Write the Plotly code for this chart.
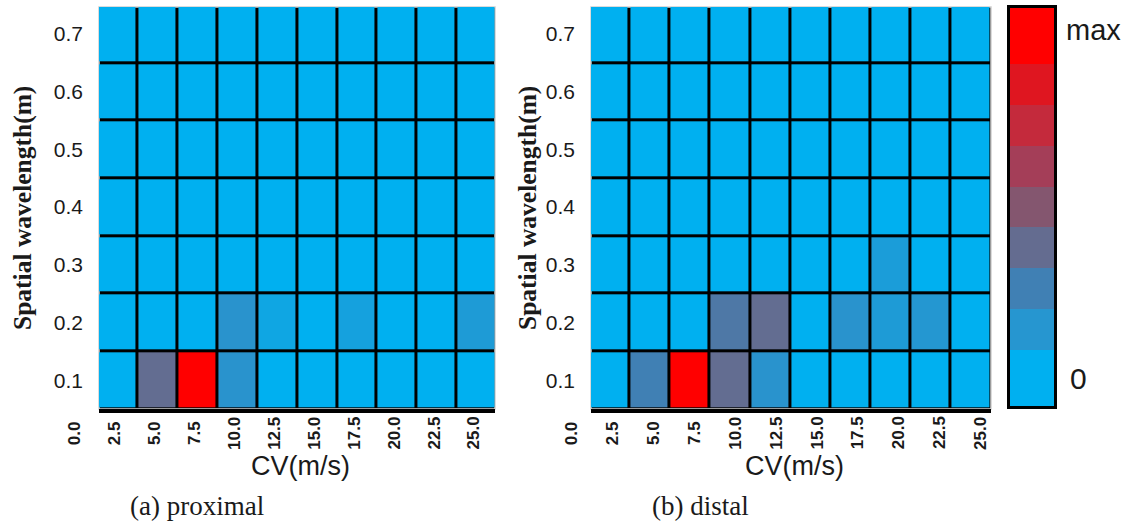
import plotly.graph_objects as go

# ---- data -------------------------------------------------------------
cv_labels = ["0.0", "2.5", "5.0", "7.5", "10.0", "12.5", "15.0",
             "17.5", "20.0", "22.5", "25.0"]
wavelength_labels = ["0.1", "0.2", "0.3", "0.4", "0.5", "0.6", "0.7"]

# relative power (fraction of max); rows = wavelength 0.1 .. 0.7, cols = CV bins
proximal = [
    [0.00, 0.37, 1.00, 0.14, 0.00, 0.00, 0.00, 0.00, 0.00, 0.00],
    [0.00, 0.00, 0.00, 0.14, 0.05, 0.00, 0.07, 0.00, 0.00, 0.10],
    [0.00, 0.00, 0.00, 0.00, 0.00, 0.00, 0.00, 0.00, 0.00, 0.00],
    [0.00, 0.00, 0.00, 0.00, 0.00, 0.00, 0.00, 0.00, 0.00, 0.00],
    [0.00, 0.00, 0.00, 0.00, 0.00, 0.00, 0.00, 0.00, 0.00, 0.00],
    [0.00, 0.00, 0.00, 0.00, 0.00, 0.00, 0.00, 0.00, 0.00, 0.00],
    [0.00, 0.00, 0.00, 0.00, 0.00, 0.00, 0.00, 0.00, 0.00, 0.00],
]
distal = [
    [0.00, 0.25, 1.00, 0.37, 0.14, 0.00, 0.00, 0.00, 0.00, 0.00],
    [0.00, 0.00, 0.00, 0.30, 0.37, 0.00, 0.14, 0.10, 0.12, 0.00],
    [0.00, 0.00, 0.00, 0.00, 0.00, 0.00, 0.00, 0.09, 0.00, 0.00],
    [0.00, 0.00, 0.00, 0.00, 0.00, 0.00, 0.00, 0.00, 0.00, 0.00],
    [0.00, 0.00, 0.00, 0.00, 0.00, 0.00, 0.00, 0.00, 0.00, 0.00],
    [0.00, 0.00, 0.00, 0.00, 0.00, 0.00, 0.00, 0.00, 0.00, 0.00],
    [0.00, 0.00, 0.00, 0.00, 0.00, 0.00, 0.00, 0.00, 0.00, 0.00],
]

# colour steps of the legend, from 0 up to max
scale_colors = ["#00B0F0", "#2696D0", "#4080B4", "#646C90", "#84566F",
                "#A43E58", "#C42A3C", "#DF1620", "#FF0000"]
scale_labels = ["0", "max"]

panel_titles = ["(a) proximal", "(b) distal"]
x_title = "CV(m/s)"
y_title = "Spatial wavelength(m)"

# ---- styling ------------------------------------------------------------
W, H = 1137, 532
SANS = "Liberation Sans, Arial, sans-serif"
SERIF = "Liberation Serif, Times New Roman, serif"
TXT = "#1a1a1a"

n_steps = len(scale_colors)
colorscale = [[i / (n_steps - 1), c] for i, c in enumerate(scale_colors)]

def px_x(p):
    return p / W

def px_y(p):
    return 1 - p / H

panels = [
    dict(z=proximal, dom=(99, 495), xr=(-0.46, 9.46), tick0=-1.08, tstep=1.0,
         xtitle_c=300, ytitle_c=22, cap_c=197, xa="x", ya="y"),
    dict(z=distal, dom=(591, 991), xr=(-0.46, 9.5), tick0=-0.95, tstep=1.0175,
         xtitle_c=794, ytitle_c=527, cap_c=700, xa="x2", ya="y2"),
]
y_dom = (px_y(409), px_y(7))

fig = go.Figure()
annotations = []
layout_axes = {}

for i, p in enumerate(panels):
    n_cols = len(p["z"][0])
    n_rows = len(p["z"])
    fig.add_trace(go.Heatmap(
        z=p["z"], x=list(range(n_cols)), y=list(range(n_rows)),
        zmin=0, zmax=1, colorscale=colorscale, showscale=False,
        xgap=3, ygap=3, hoverinfo="skip",
        xaxis=p["xa"], yaxis=p["ya"],
    ))
    xname = "xaxis" if i == 0 else "xaxis2"
    yname = "yaxis" if i == 0 else "yaxis2"
    layout_axes[xname] = dict(
        domain=[px_x(p["dom"][0]), px_x(p["dom"][1])], anchor=p["ya"],
        range=list(p["xr"]), showticklabels=False, ticks="",
        showgrid=False, zeroline=False,
        showline=True, linecolor="black", linewidth=4,
    )
    layout_axes[yname] = dict(
        domain=list(y_dom), anchor=p["xa"], range=[-0.5, 6.47],
        tickvals=list(range(n_rows)), ticktext=wavelength_labels,
        tickfont=dict(family=SANS, size=21, color=TXT),
        ticks="", ticklabelstandoff=15,
        showgrid=False, zeroline=False, showline=False,
    )
    # light frame around the plot area
    fig.add_shape(type="rect", xref=f"{p['xa']} domain", yref=f"{p['ya']} domain",
                  x0=0, x1=1, y0=0, y1=1, line=dict(color="#cfcfcf", width=1.5),
                  layer="below")
    # CV tick labels (rotated)
    r0, r1 = p["xr"]
    for k, lab in enumerate(cv_labels):
        pos = p["tick0"] + k * p["tstep"]
        annotations.append(dict(
            text=f"<b>{lab}</b>", xref=f"{p['xa']} domain", yref="paper",
            x=(pos - r0) / (r1 - r0), y=px_y(433), textangle=-90,
            showarrow=False, xanchor="center", yanchor="middle",
            font=dict(family=SANS, size=17, color=TXT),
        ))
    annotations.append(dict(
        text=x_title, xref="paper", yref="paper",
        x=px_x(p["xtitle_c"]), y=px_y(466), showarrow=False,
        xanchor="center", yanchor="middle",
        font=dict(family=SANS, size=27, color=TXT),
    ))
    annotations.append(dict(
        text=f"<b>{y_title}</b>", xref="paper", yref="paper",
        x=px_x(p["ytitle_c"]), y=px_y(208), textangle=-90, showarrow=False,
        xanchor="center", yanchor="middle",
        font=dict(family=SERIF, size=25.5, color=TXT),
    ))
    annotations.append(dict(
        text=panel_titles[i], xref="paper", yref="paper",
        x=px_x(p["cap_c"]), y=px_y(506), showarrow=False,
        xanchor="center", yanchor="middle",
        font=dict(family=SERIF, size=27, color=TXT),
    ))

# ---- stepped colour legend ---------------------------------------------
levels = list(range(n_steps))
end_extra = 0.38  # end bands drawn slightly taller
edges = [levels[0] - 0.5 - end_extra] + [l + 0.5 for l in levels[:-1]] + [levels[-1] + 0.5 + end_extra]
fig.add_trace(go.Heatmap(
    z=[[l / (n_steps - 1)] for l in levels], x=[0, 1], y=edges,
    zmin=0, zmax=1, colorscale=colorscale, showscale=False,
    hoverinfo="skip", xaxis="x3", yaxis="y3",
))
layout_axes["xaxis3"] = dict(
    domain=[px_x(1010), px_x(1054)], anchor="y3", range=[0, 1],
    showticklabels=False, ticks="", showgrid=False, zeroline=False,
    showline=True, mirror=True, linecolor="black", linewidth=2.5,
)
layout_axes["yaxis3"] = dict(
    domain=[px_y(406), px_y(8)], anchor="x3", range=[edges[0], edges[-1]],
    showticklabels=False, ticks="", showgrid=False, zeroline=False,
    showline=True, mirror=True, linecolor="black", linewidth=2.5,
)
annotations.append(dict(
    text=scale_labels[1], xref="paper", yref="paper", x=px_x(1064), y=px_y(30),
    xanchor="left", yanchor="middle", showarrow=False,
    font=dict(family=SANS, size=29, color=TXT),
))
annotations.append(dict(
    text=scale_labels[0], xref="paper", yref="paper", x=px_x(1068), y=px_y(378),
    xanchor="left", yanchor="middle", showarrow=False,
    font=dict(family=SANS, size=30, color=TXT),
))

fig.update_layout(
    width=W, height=H, margin=dict(l=0, r=0, t=0, b=0),
    paper_bgcolor="white", plot_bgcolor="black",
    showlegend=False, annotations=annotations, **layout_axes,
)

fig.write_html("out.html")
